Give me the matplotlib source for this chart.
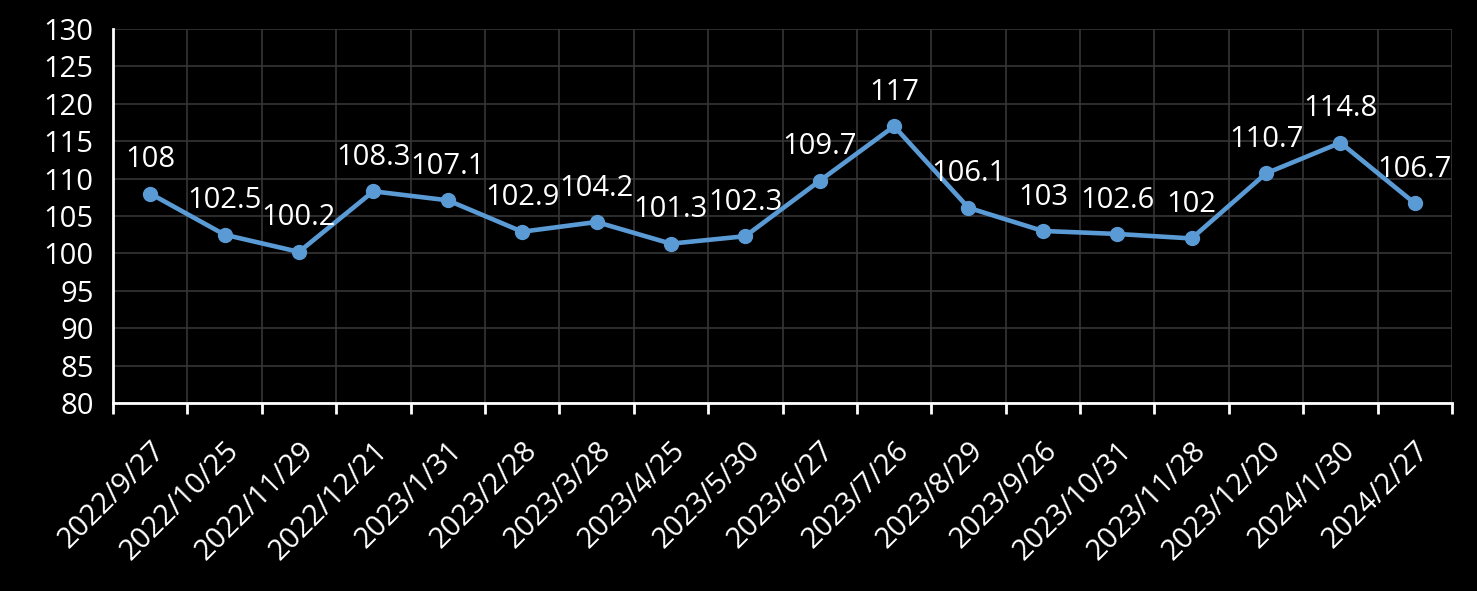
import numpy as np
import matplotlib
matplotlib.use('Agg')
import matplotlib.pyplot as plt

# 날짜별 값
dates = ['2022/9/27', '2022/10/25', '2022/11/29', '2022/12/21', '2023/1/31',
         '2023/2/28', '2023/3/28', '2023/4/25', '2023/5/30', '2023/6/27',
         '2023/7/26', '2023/8/29', '2023/9/26', '2023/10/31', '2023/11/28',
         '2023/12/20', '2024/1/30', '2024/2/27']
values = [108, 102.5, 100.2, 108.3, 107.1, 102.9, 104.2, 101.3, 102.3, 109.7,
          117, 106.1, 103, 102.6, 102, 110.7, 114.8, 106.7]
labels = ['108', '102.5', '100.2', '108.3', '107.1', '102.9', '104.2', '101.3', '102.3',
          '109.7', '117', '106.1', '103', '102.6', '102', '110.7', '114.8', '106.7']

plt.rcParams['font.family'] = ['Open Sans', 'DejaVu Sans']

fig = plt.figure(figsize=(14.77, 5.91), dpi=100, facecolor='black')
ax = fig.add_axes([113 / 1477, 1 - 403 / 591, (1452 - 113) / 1477, (403 - 29) / 591])
ax.set_facecolor('black')

n = len(dates)
x = np.arange(n)
ax.plot(x, values, color='#5B9BD5', linewidth=3.3, marker='o', markersize=10,
        solid_capstyle='round', zorder=3)

for xi, v, lab in zip(x, values, labels):
    ax.annotate(lab, (xi, v), xytext=(0, 14), textcoords='offset points',
                ha='center', va='bottom', color='white', fontsize=21)

ax.set_xlim(-0.5, n - 0.5)
ax.set_ylim(80, 130)
ax.set_yticks(np.arange(80, 131, 5))

# 라벨은 가운데, 눈금은 경계
ax.set_xticks(x)
ax.set_xticklabels(dates, rotation=45, ha='right', rotation_mode='anchor')
ax.set_xticks(np.arange(n + 1) - 0.5, minor=True)
ax.tick_params(axis='x', which='major', length=0, pad=24, colors='white', labelsize=21)
ax.tick_params(axis='x', which='minor', length=8, width=2, color='white', direction='out')
ax.tick_params(axis='y', length=0, pad=14, colors='white', labelsize=21)

ax.grid(True, axis='y', which='major', color='#363636', linewidth=1.2)
ax.grid(True, axis='x', which='minor', color='#363636', linewidth=1.2)
ax.set_axisbelow(True)

for s in ['top', 'right']:
    ax.spines[s].set_visible(False)
for s in ['left', 'bottom']:
    ax.spines[s].set_color('white')
    ax.spines[s].set_linewidth(2)

plt.savefig('out.png', dpi=100, facecolor='black')
plt.close()
